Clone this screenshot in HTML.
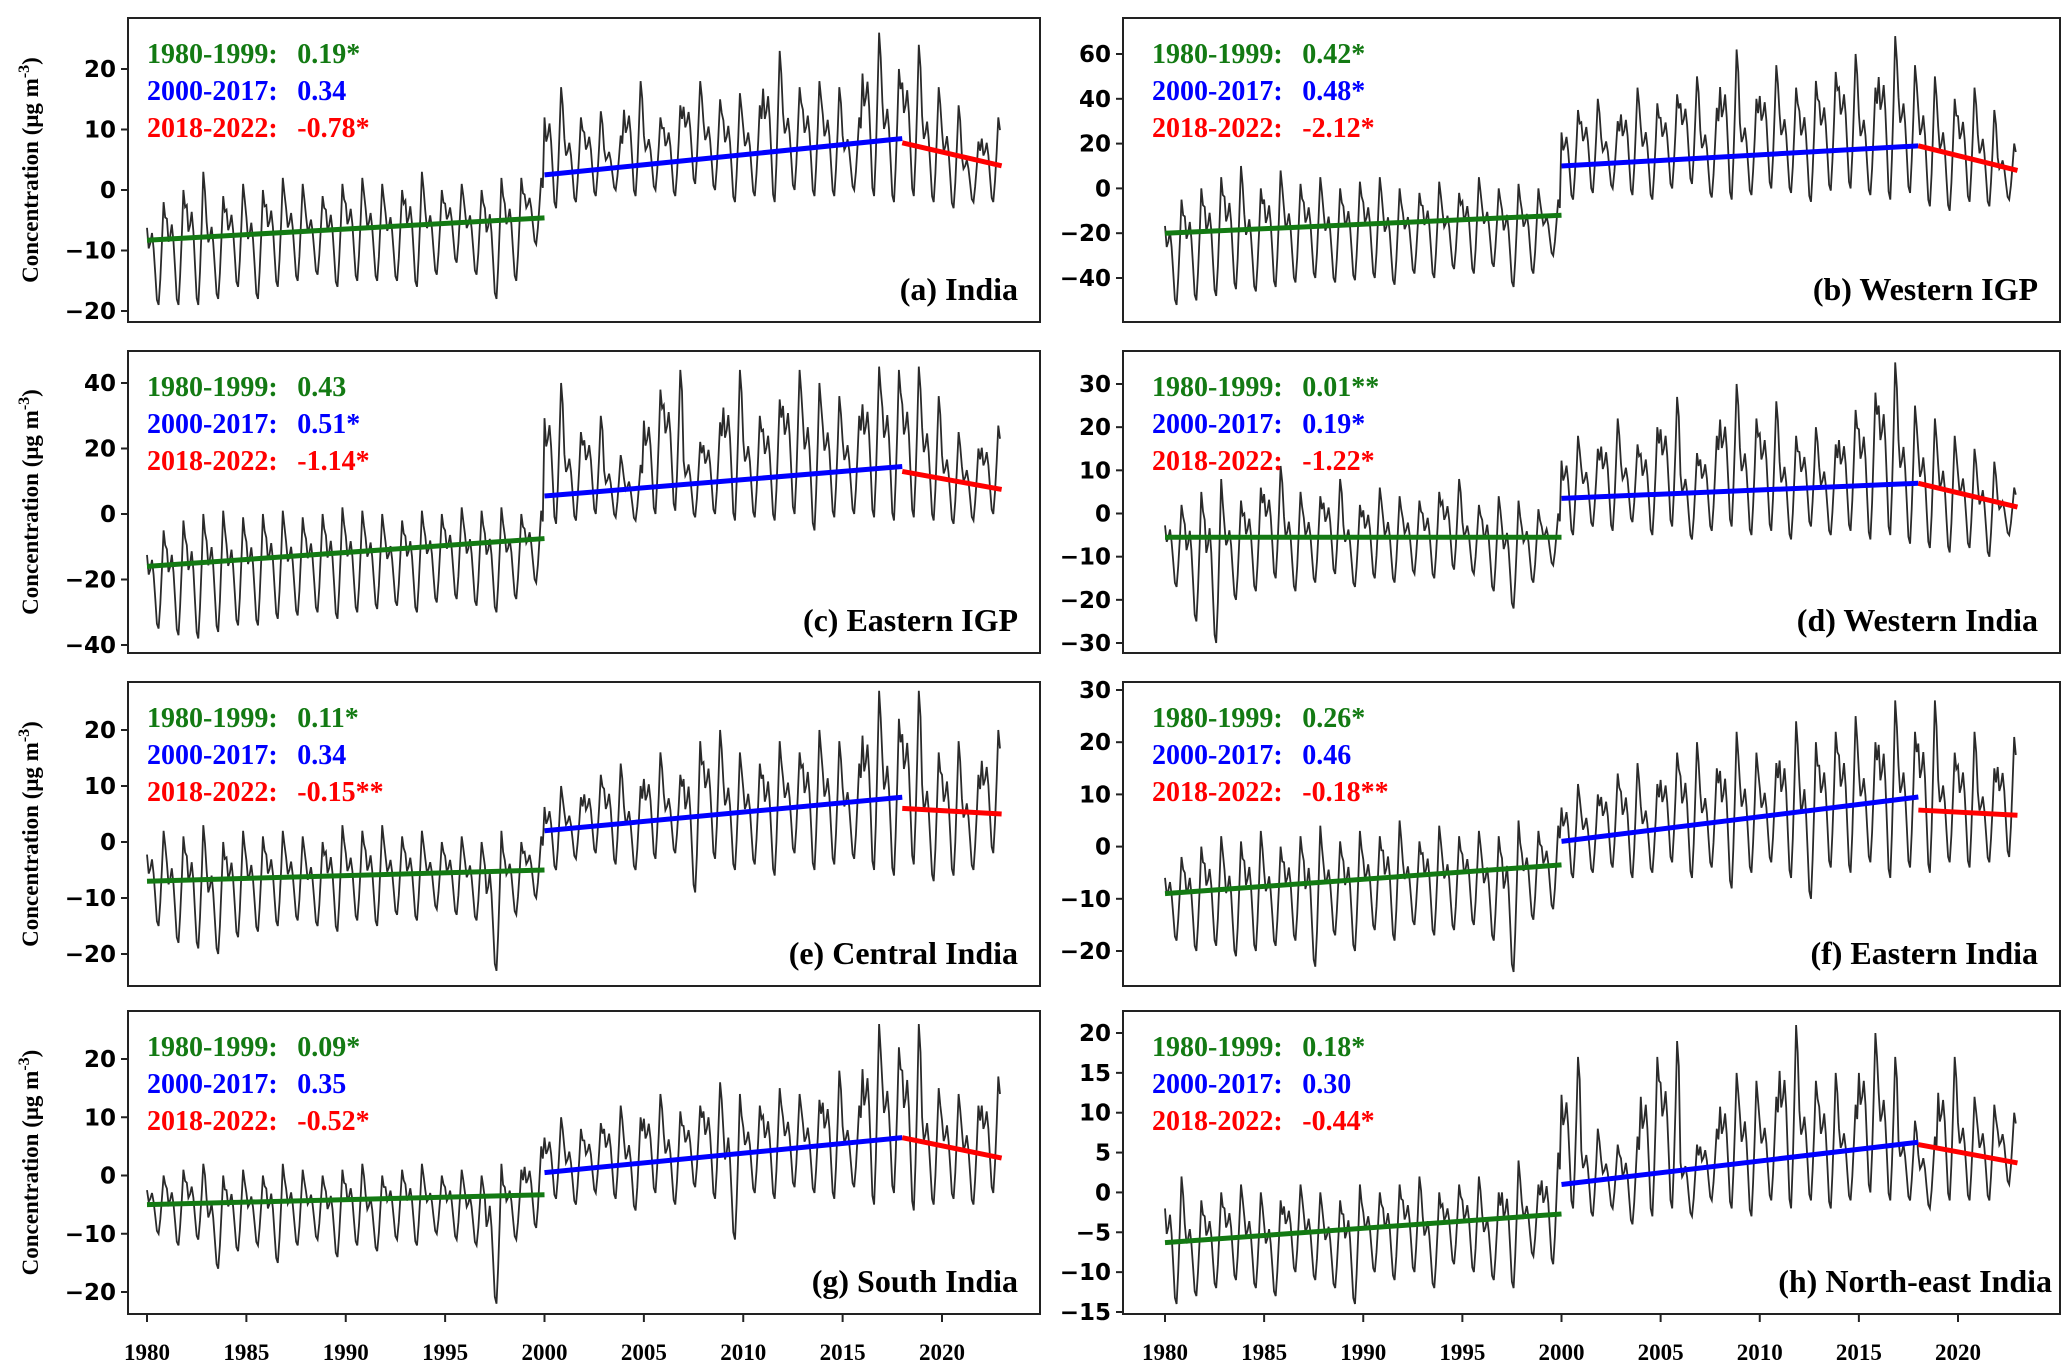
<!DOCTYPE html>
<html><head><meta charset="utf-8"><style>
html,body{margin:0;padding:0;background:#fff}
svg{display:block}
.tk{font-family:"DejaVu Sans","Liberation Sans",sans-serif;font-weight:bold;font-size:23px;fill:#000}
.xt{font-family:"Liberation Serif",serif;font-weight:bold;font-size:23px;fill:#000}
.an{font-family:"Liberation Serif",serif;font-weight:bold;font-size:28px;white-space:pre}
.pl{font-family:"Liberation Serif",serif;font-weight:bold;font-size:32px;fill:#000}
.yt{font-family:"Liberation Serif",serif;font-weight:bold;font-size:23px;fill:#000}
</style></head><body>
<svg id="chart" width="2067" height="1372" xmlns="http://www.w3.org/2000/svg"></svg>
<script>
// shared seasonal shape (fraction between annual trough and annual peak)
const seasonShape = [0.75,0.55,0.6,0.7,0.55,0.3,0.05,0.0,0.25,0.6,1.0,0.85];
const years = [1980,1985,1990,1995,2000,2005,2010,2015,2020];
const periodLabels = ["1980-1999","2000-2017","2018-2022"];

const peaksA = [-2,0,3,-1,1,0,2,1,-1,1,2,1,0,3,0,1,0,2,2,2, 17,12,13,9,18,12,14,18,15,16,14,23,17,18,17,12,26,20,24,17,14,8,12];
const troughsA = [-19,-19,-19,-18,-16,-18,-16,-15,-14,-16,-15,-15,-15,-16,-14,-12,-14,-18,-15,-9, -3,-2,-1,0,-1,0,-1,1,0,-2,-1,-2,0,-1,-1,0,-1,-2,-1,-2,-3,-2,-2];
const peaksB = [-5,0,5,10,0,8,2,5,0,3,5,0,-2,3,-2,5,0,2,0,-5, 35,40,30,45,38,42,50,36,62,40,55,45,48,52,60,45,68,55,50,40,45,35,20];
const troughsB = [-52,-50,-48,-45,-46,-44,-42,-40,-42,-41,-40,-43,-38,-40,-36,-38,-35,-44,-38,-30, -5,-2,0,-3,-5,0,2,-4,-5,-3,0,-2,-6,-1,0,-3,-5,-2,-8,-10,-6,-8,-5];
const peaksC = [-5,-2,0,1,-1,0,1,-1,0,2,1,0,-2,1,0,2,1,2,0,1, 40,25,30,18,15,38,44,22,28,44,30,35,44,40,36,30,45,44,45,36,25,20,27];
const troughsC = [-35,-37,-38,-36,-34,-34,-32,-31,-30,-32,-30,-29,-28,-30,-27,-26,-28,-30,-26,-21, -3,-2,0,-1,-2,0,1,-1,0,-2,-1,-2,0,-5,-1,0,-1,-2,-1,-2,-3,-2,0];
const peaksD = [2,5,8,3,6,11,5,4,8,2,6,4,3,5,8,2,4,3,1,0, 18,15,22,16,20,27,14,18,30,22,26,18,20,16,24,28,35,25,22,18,15,12,6];
const troughsD = [-17,-25,-30,-20,-18,-15,-18,-16,-14,-17,-15,-16,-14,-15,-13,-14,-18,-22,-16,-12, -5,-3,-4,-2,-5,-3,-6,-4,-3,-5,-4,-6,-3,-5,-4,-6,-5,-7,-8,-9,-8,-10,-5];
const peaksE = [2,1,3,0,2,1,2,1,0,3,2,3,1,2,0,1,0,2,0,1, 10,8,12,14,10,16,12,18,20,16,14,18,16,20,18,14,27,22,27,16,18,12,20];
const troughsE = [-15,-18,-19,-20,-17,-16,-15,-14,-15,-16,-14,-15,-13,-14,-12,-13,-14,-23,-13,-10, -5,-3,-2,-4,-5,-3,-2,-9,-3,-5,-4,-6,-2,-5,-4,-3,-5,-6,-4,-7,-6,-5,-2];
const peaksF = [-2,0,2,1,3,0,2,4,1,3,2,5,1,4,2,3,2,5,3,4, 12,10,14,16,12,18,20,15,22,18,16,24,20,22,25,20,28,22,28,18,22,15,21];
const troughsF = [-18,-20,-19,-21,-20,-19,-18,-23,-17,-20,-16,-18,-15,-17,-16,-15,-18,-24,-14,-12, -6,-5,-4,-6,-5,-3,-6,-4,-8,-5,-3,-6,-10,-4,-5,-3,-6,-4,-5,-3,-4,-3,-2];
const peaksG = [0,1,2,0,1,0,2,1,0,1,2,0,1,2,0,1,0,2,1,5, 10,8,9,12,10,14,11,12,16,14,12,15,14,13,18,12,26,22,26,15,14,12,17];
const troughsG = [-10,-12,-11,-16,-13,-12,-15,-12,-11,-14,-12,-13,-11,-12,-10,-11,-12,-22,-11,-9, -4,-5,-3,-4,-6,-3,-5,-2,-4,-11,-3,-4,-2,-3,-4,-2,-5,-3,-6,-5,-4,-5,-3];
const peaksH = [2,-1,0,1,0,-1,1,0,-1,1,0,1,2,0,1,2,0,4,1,5, 17,8,6,7,17,19,6,8,15,14,12,21,14,15,11,20,17,9,7,17,12,11,10];
const troughsH = [-14,-13,-12,-11,-12,-13,-10,-11,-12,-14,-10,-11,-10,-12,-9,-10,-11,-12,-8,-9, -2,-3,-2,-4,-3,-2,-3,-1,-2,-3,-1,-2,-1,-2,-1,0,-1,-1,-2,-1,-1,-1,1];

const greenAB = [[-8.3,-4.6],[-20,-12],[-16,-7.5],[-5.5,-5.5],[-7,-5],[-9,-3.5],[-5,-3.3],[-6.3,-2.7]];
const blueAB = [[2.5,8.5],[10,19],[5.5,14.5],[3.5,7],[2,8],[1,9.5],[0.5,6.5],[1,6.3]];
const redAB = [[7.8,4.0],[19,8],[13,7.5],[7,1.5],[6,5],[7,6],[6.5,3],[6,3.7]];
const trendText = [["0.19*","0.34","-0.78*"],["0.42*","0.48*","-2.12*"],["0.43","0.51*","-1.14*"],["0.01**","0.19*","-1.22*"],["0.11*","0.34","-0.15**"],["0.26*","0.46","-0.18**"],["0.09*","0.35","-0.52*"],["0.18*","0.30","-0.44*"]];
const panelNames = ["(a) India","(b) Western IGP","(c) Eastern IGP","(d) Western India","(e) Central India","(f) Eastern India","(g) South India","(h) North-east India"];
const yTicks = [[20,10,0,-10,-20],[60,40,20,0,-20,-40],[40,20,0,-20,-40],[30,20,10,0,-10,-20,-30],[20,10,0,-10,-20],[30,20,10,0,-10,-20],[20,10,0,-10,-20],[20,15,10,5,0,-5,-10,-15]];
const peaks=[peaksA,peaksB,peaksC,peaksD,peaksE,peaksF,peaksG,peaksH];
const troughs=[troughsA,troughsB,troughsC,troughsD,troughsE,troughsF,troughsG,troughsH];

// layout (pixels)
const boxes = [[128,18,1040,322],[1123,18,2060,322],[128,351,1040,653],[1123,351,2060,653],[128,682,1040,986],[1123,682,2060,986],[128,1011,1040,1314],[1123,1011,2060,1314]];
const yCal = [[20,69,-20,311],[60,54,-40,278],[40,383,-40,645],[30,384,-30,643],[20,730,-20,954],[30,690,-20,951],[20,1059,-20,1292],[20,1033,-15,1312]];
const xCal = [[147,942],[1165,1958]];
const NS="http://www.w3.org/2000/svg";
const svg=document.getElementById('chart');
function mk(t,a,p){const e=document.createElementNS(NS,t);for(const k in a)e.setAttribute(k,a[k]);(p||svg).appendChild(e);return e;}

for(let i=0;i<8;i++){
  const [x0,y0,x1,y1]=boxes[i]; const col=i%2;
  const g=mk('g',{});
  
  
  const xs=t=>xCal[col][0]+(t-1980)*(xCal[col][1]-xCal[col][0])/40;
  const [v1,p1,v2,p2]=yCal[i];
  const ys=v=>p1+(v-v1)*(p2-p1)/(v2-v1);
  const fr=mk('rect',{x:x0,y:y0,width:x1-x0,height:y1-y0,fill:'none',stroke:'#222','stroke-width':2},g);
  
  
  yTicks[i].forEach(v=>{
    const y=ys(v);
    mk('line',{x1:x0-7,x2:x0,y1:y,y2:y,stroke:'#222','stroke-width':2},g);
    const t=mk('text',{x:x0-12,y:y+8,'text-anchor':'end',class:'tk'},g);
    t.textContent=v<0?'\u2212'+(-v):String(v);
    
    
  });
  let d='';
  for(let yi=0;yi<43;yi++)for(let m=0;m<12;m++){
    const v=troughs[i][yi]+seasonShape[m]*(peaks[i][yi]-troughs[i][yi]);
    const t=1980+yi+m/12;
    d+=(d?'L':'M')+xs(t).toFixed(1)+','+ys(v).toFixed(1);
  }
  const s=mk('path',{d:d,fill:'none',stroke:'#2a2a2a','stroke-width':1.8},g);
  
  
  const segs=[[1980,2000,greenAB[i],'#137a13'],[2000,2018,blueAB[i],'#0000ff'],[2018,2023,redAB[i],'#ff0000']];
  segs.forEach((sg,k)=>{
    const l=mk('line',{x1:xs(sg[0]),x2:xs(sg[1]),y1:ys(sg[2][0]),y2:ys(sg[2][1]),stroke:sg[3],'stroke-width':5},g);
    
    
    const t=mk('text',{x:x0+19+(col?10:0),y:y0+45+k*37,fill:sg[3],class:'an'},g);
    t.textContent=periodLabels[k]+':\u2002\u2009'+trendText[i][k];
    
    
  });
  const pl=mk('text',{x:x1-(i===7?8:22),y:y1-22,'text-anchor':'end',class:'pl'},g);
  pl.textContent=panelNames[i];
  
  
  if(col===0){
    const yt=mk('text',{x:0,y:0,'text-anchor':'middle',class:'yt',transform:'translate(38,'+((y0+y1)/2)+') rotate(-90)'},g);
    yt.innerHTML='Concentration (\u03bcg m<tspan dy="-9" font-size="16">-3</tspan><tspan dy="9">)</tspan>';
    
    
  }
  if(i>=6){
    years.forEach(yr=>{
      const x=xs(yr);
      mk('line',{x1:x,x2:x,y1:y1,y2:y1+8,stroke:'#222','stroke-width':2},g);
      const t=mk('text',{x:x,y:1360,'text-anchor':'middle',class:'xt'},g);
      t.textContent=yr;
      
      
    });
  }
}
</script>
</body></html>
